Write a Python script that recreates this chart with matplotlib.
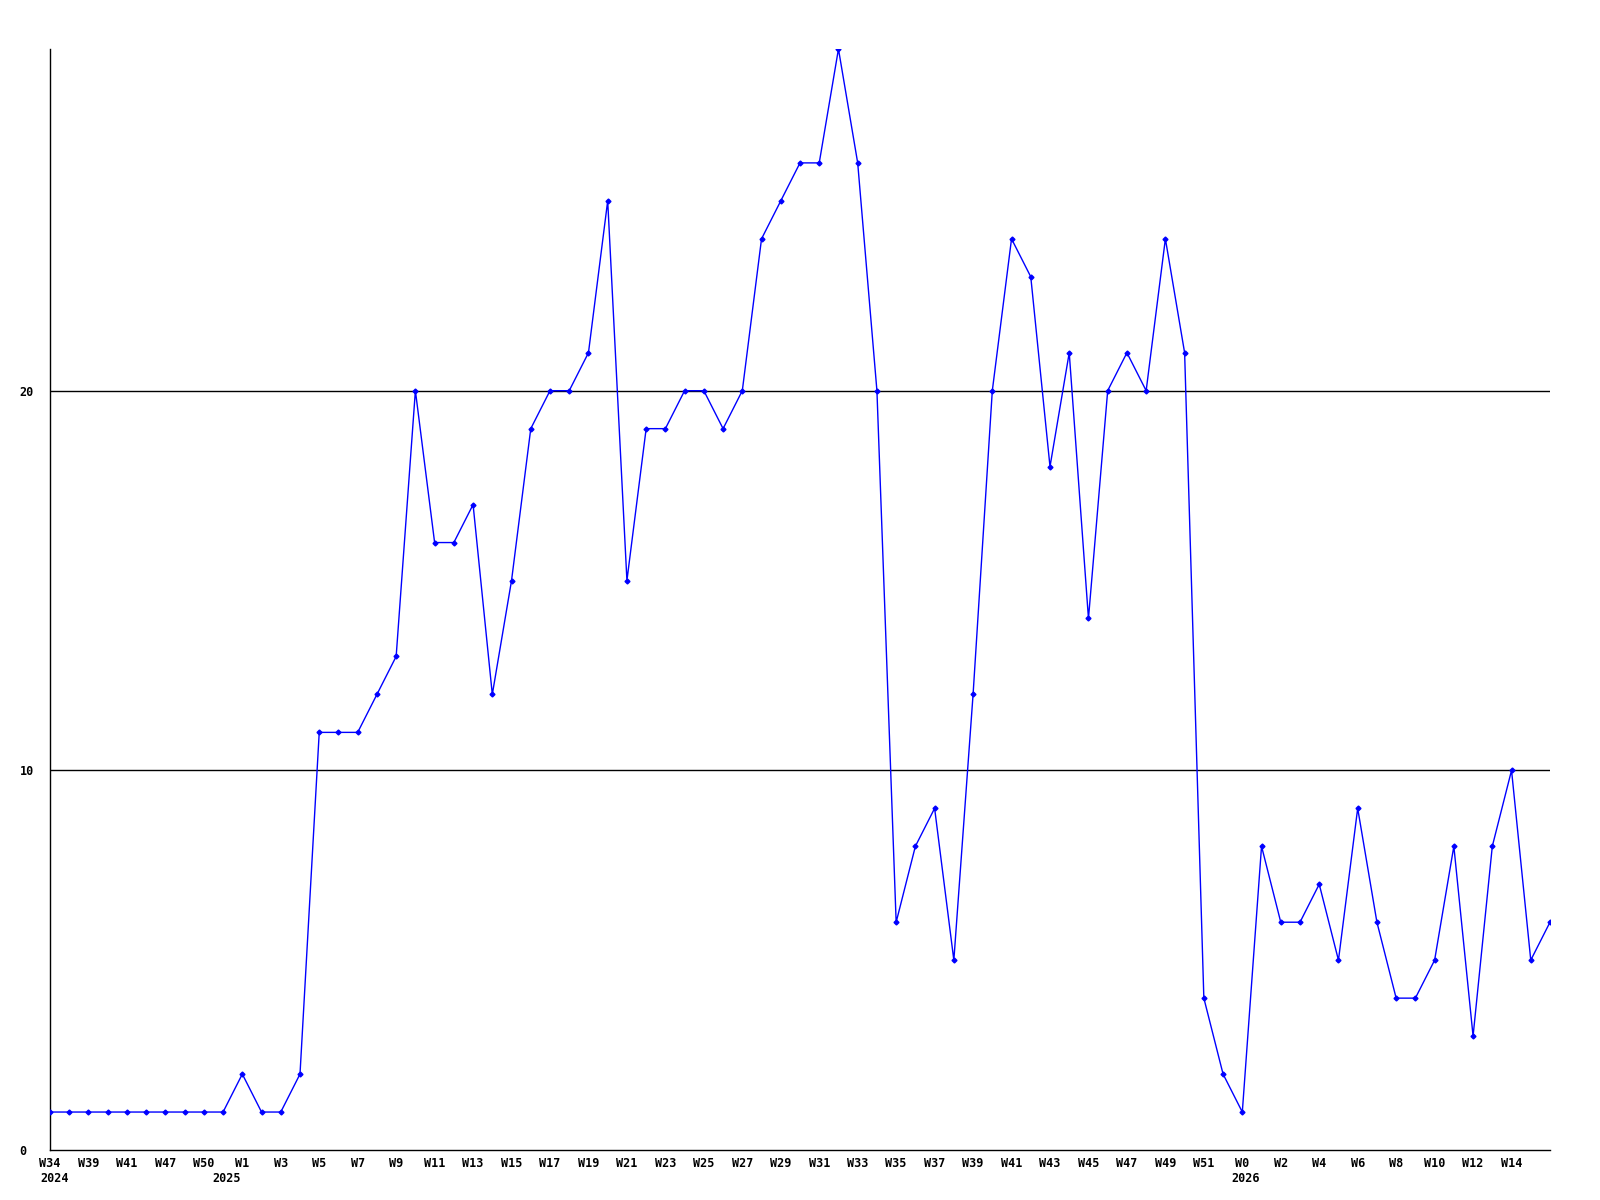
import matplotlib.pyplot as plt

# weekly counts, one per point (2024 W34 .. 2026 W16)
counts = [1, 1, 1, 1, 1, 1, 1, 1, 1, 1,
          2, 1, 1, 2, 11, 11, 11, 12, 13, 20,
          16, 16, 17, 12, 15, 19, 20, 20, 21, 25,
          15, 19, 19, 20, 20, 19, 20, 24, 25, 26,
          26, 29, 26, 20, 6, 8, 9, 5, 12, 20,
          24, 23, 18, 21, 14, 20, 21, 20, 24, 21,
          4, 2, 1, 8, 6, 6, 7, 5, 9, 6,
          4, 4, 5, 8, 3, 8, 10, 5, 6]

weeks_2024 = [34, 37, 39, 40, 41, 46, 47, 49, 50, 51]
weeks_2025 = list(range(1, 53))
weeks_2026 = list(range(0, 17))
years = [2024, 2025, 2026]

y_ticks = [0, 10, 20]


def main():
    labels = []
    year_starts = []
    for weeks in [weeks_2024, weeks_2025, weeks_2026]:
        year_starts.append(len(labels))
        labels += [f"W{w}" for w in weeks]

    x = list(range(len(counts)))

    fig = plt.figure(figsize=(16, 12), dpi=100)
    ax = fig.add_axes([50 / 1600, 50 / 1200, 1500 / 1600, 1101 / 1200])

    for y in y_ticks[1:]:
        ax.axhline(y, color="black", lw=1.0, zorder=1)

    ax.plot(x, counts, color="#0000ff", lw=1.0, marker="D", markersize=2.5,
            zorder=3)

    ax.set_xlim(0, len(counts) - 1)
    ax.set_ylim(0, 29)

    font = dict(family="DejaVu Sans Mono", weight="bold", size=8.5)
    ax.set_xticks(x[0:-1:2])
    ax.set_xticklabels(labels[0:-1:2], **font)
    ax.set_yticks(y_ticks)
    ax.set_yticklabels([str(v) for v in y_ticks], ha="left", **font)
    ax.tick_params(axis="x", length=0, pad=5)
    ax.tick_params(axis="y", length=0, pad=22)

    # year under the first week of each year
    shifts = [-7, -21.5, -8]
    for year, start, dx in zip(years, year_starts, shifts):
        ax.annotate(str(year), xy=(start, 0), xycoords="data",
                    xytext=(dx, -15.5), textcoords="offset points",
                    ha="left", va="top", **font)

    for side in ["top", "right"]:
        ax.spines[side].set_visible(False)
    for side in ["left", "bottom"]:
        ax.spines[side].set_linewidth(1.0)

    fig.savefig("out.png", dpi=100)


if __name__ == "__main__":
    main()
